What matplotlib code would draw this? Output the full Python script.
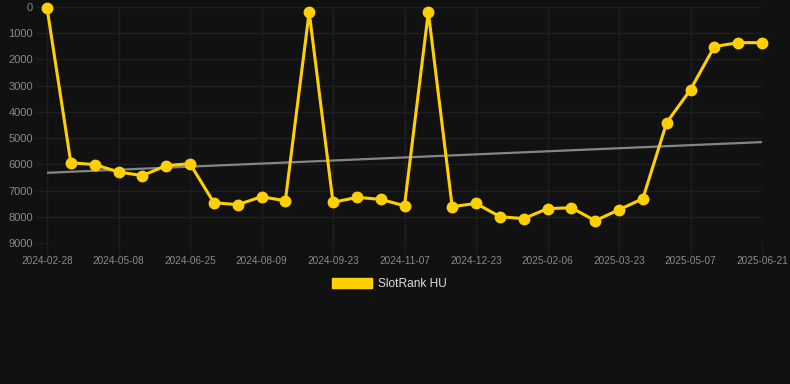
import numpy as np
import matplotlib
matplotlib.use("Agg")
from matplotlib import pyplot as plt
from matplotlib.patches import Patch

# rank values, one point per sample (category axis)
ranks = [30, 5940, 6010, 6290, 6430, 6050, 5975, 7460, 7540, 7235,
         7390, 190, 7450, 7260, 7335, 7580, 190, 7615, 7490, 7995,
         8070, 7690, 7655, 8150, 7730, 7310, 4410, 3150, 1510, 1360,
         1360]
tick_labels = ["2024-02-28", "2024-05-08", "2024-06-25", "2024-08-09",
               "2024-09-23", "2024-11-07", "2024-12-23", "2025-02-06",
               "2025-03-23", "2025-05-07", "2025-06-21"]
y_ticks = [0, 1000, 2000, 3000, 4000, 5000, 6000, 7000, 8000, 9000]

bg = "#111111"
gold = "#FFD000"
grid_c = "#1f1f1f"
txt_c = "#8a8a8a"

x = np.arange(len(ranks))
k, b = np.polyfit(x, ranks, 1)
trend = k * x + b

fig = plt.figure(figsize=(7.9, 3.84), dpi=100, facecolor=bg)
ax = fig.add_axes([47 / 790, 1 - 243 / 384, (762 - 47) / 790, (243 - 7) / 384])
ax.set_facecolor(bg)

ax.plot(x, trend, color="#858585", lw=1.6, zorder=2)
ax.plot(x, ranks, color=gold, lw=2.2, marker="o", ms=7.5, mec=gold, mfc=gold,
        solid_joinstyle="miter", zorder=3, clip_on=False)

ax.set_xlim(0, len(ranks) - 1)
ax.set_ylim(9000, 0)
ax.set_yticks(y_ticks)
ax.set_yticklabels([str(v) for v in y_ticks], fontfamily="Liberation Sans",
                   fontsize=8, color=txt_c)
ax.set_xticks(x[::3])
ax.set_xticklabels(tick_labels, fontfamily="Liberation Sans", fontsize=7.2,
                   color=txt_c)
ax.tick_params(axis="both", colors=grid_c, length=8, width=1)
ax.tick_params(axis="y", pad=2, labelcolor=txt_c)
ax.tick_params(axis="x", pad=1, labelcolor=txt_c)
ax.grid(True, color=grid_c, lw=1)
for s in ax.spines.values():
    s.set_visible(False)

# legend swatch as a filled box
leg = fig.legend(handles=[Patch(color=gold, label="SlotRank HU")], loc="center",
                 bbox_to_anchor=(389.5 / 790, 1 - 284 / 384), frameon=False,
                 handlelength=3.3, handleheight=1.0, handletextpad=0.5,
                 prop={"family": "Liberation Sans", "size": 8.6})
for t in leg.get_texts():
    t.set_color("#dddddd")

fig.savefig("out.png", dpi=100, facecolor=bg)
